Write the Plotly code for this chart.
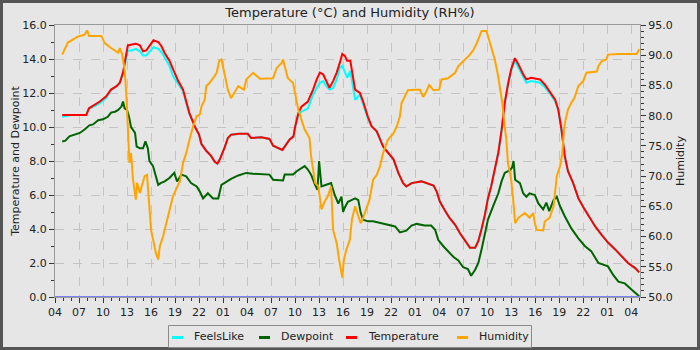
import datetime as dt
import plotly.graph_objects as go

START = dt.datetime(2024, 3, 1, 4, 0)
END_HOURS = 73.1

# ---- data (hours after 04:00 on day 1, values) ----
temp_hours = [0.9, 2.0, 3.9, 4.25, 5.0, 5.6, 6.4, 7.0, 7.7, 8.1, 8.5, 8.8, 9.1, 9.6, 10.1, 10.6, 11.0, 11.4,
              11.8, 12.3, 12.9, 13.3, 13.7, 14.3, 14.75, 15.4, 16.0, 16.4, 16.8, 17.5, 18.0, 18.3, 18.9,
              19.5, 19.96, 20.3, 20.6, 21.2, 21.6, 22.0, 23.0, 24.1, 24.5, 25.8, 26.8, 27.25, 27.9, 28.4,
              28.7, 29.3, 29.8, 30.0, 30.4, 30.8, 31.6, 32.25, 32.7, 33.1, 33.5, 33.9, 34.3, 34.75, 35.2,
              35.6, 35.9, 36.2, 36.5, 36.9, 37.2, 37.5, 38.1, 38.5, 39.1, 39.55, 40.2, 40.6, 41.0, 41.6,
              42.3, 42.9, 43.5, 43.9, 44.55, 45.8, 46.4, 47.3, 47.7, 48.1, 48.7, 49.3, 50.0, 50.6, 51.2,
              51.85, 52.5, 52.9, 53.3, 53.7, 54.1, 54.5, 54.95, 55.4, 55.8, 56.2, 56.6, 57.0, 57.46, 57.9,
              58.5, 58.9, 59.5, 60.6, 61.2, 61.8, 62.5, 62.9, 63.3, 63.7, 64.1, 64.75, 65.4, 66.0, 66.6,
              67.5, 68.3, 69.1, 70.0, 70.8, 71.6, 72.5, 73.0]
temperature = [10.7, 10.7, 10.7, 11.1, 11.3, 11.5, 11.8, 12.2, 12.4, 12.6, 13.2, 14.0, 14.8, 14.85, 14.9,
               14.8, 14.45, 14.5, 14.8, 15.1, 15.0, 14.75, 14.35, 13.9, 13.4, 12.7, 12.2, 11.5, 10.8, 10.0,
               9.55, 9.0, 8.6, 8.3, 7.95, 7.85, 8.1, 8.8, 9.35, 9.55, 9.6, 9.6, 9.35, 9.4, 9.3, 8.9, 8.75,
               8.65, 8.85, 9.25, 9.45, 10.0, 10.8, 11.2, 11.5, 12.2, 12.8, 13.2, 13.1, 12.7, 12.3, 12.7,
               13.2, 13.8, 14.3, 14.2, 13.9, 13.9, 13.1, 12.2, 12.0, 11.5, 10.6, 10.05, 9.75, 9.35, 8.85,
               8.5, 8.1, 7.3, 6.7, 6.5, 6.7, 6.8, 6.7, 6.55, 6.2, 5.6, 5.1, 4.65, 4.25, 3.75, 3.35, 2.9,
               2.9, 3.3, 4.0, 4.8, 5.8, 6.5, 7.5, 8.5, 9.8, 11.4, 12.5, 13.4, 14.05, 13.7, 13.1, 12.8,
               12.9, 12.8, 12.5, 12.1, 11.6, 11.0, 9.8, 8.3, 7.4, 6.7, 5.8, 5.3, 4.85, 4.15, 3.65, 3.2,
               2.8, 2.4, 2.0, 1.7, 1.45]
feels_like = [10.6, 10.7, 10.7, 11.1, 11.25, 11.4, 11.7, 12.2, 12.4, 12.6, 13.2, 13.9, 14.5, 14.5, 14.6,
              14.45, 14.2, 14.2, 14.4, 14.7, 14.6, 14.4, 14.1, 13.6, 13.0, 12.5, 12.1, 11.4, 10.8, 10.0,
              9.55, 9.0, 8.6, 8.3, 7.95, 7.85, 8.1, 8.8, 9.35, 9.55, 9.6, 9.6, 9.35, 9.4, 9.3, 8.9, 8.75,
              8.65, 8.85, 9.25, 9.45, 10.0, 10.7, 10.9, 11.1, 11.9, 12.3, 12.6, 12.7, 12.4, 12.2, 12.3,
              12.8, 13.5, 13.6, 13.3, 12.9, 13.3, 12.4, 11.6, 11.9, 11.3, 10.5, 10.05, 9.75, 9.35, 8.85,
              8.5, 8.1, 7.3, 6.7, 6.5, 6.7, 6.8, 6.7, 6.55, 6.2, 5.6, 5.1, 4.65, 4.25, 3.75, 3.35, 2.9,
              2.9, 3.3, 4.0, 4.8, 5.8, 6.5, 7.5, 8.5, 9.8, 11.4, 12.5, 13.3, 13.9, 13.5, 12.9, 12.6,
              12.7, 12.6, 12.35, 12.0, 11.5, 11.0, 9.8, 8.3, 7.4, 6.7, 5.8, 5.3, 4.85, 4.15, 3.65, 3.2,
              2.8, 2.4, 2.0, 1.7, 1.45]

dew_hours = [0.9, 1.3, 1.8, 2.5, 3.1, 3.7, 4.3, 4.75, 5.4, 6.0, 6.6, 7.0, 7.5, 7.9, 8.3, 8.5, 8.7, 9.0,
             9.25, 9.5, 10.0, 10.2, 10.6, 11.0, 11.3, 11.6, 11.8, 12.25, 12.6, 12.9, 13.2, 13.7, 14.3,
             14.9, 15.25, 15.8, 16.4, 17.0, 17.7, 18.1, 18.5, 19.1, 19.75, 20.4, 20.8, 21.4, 22.0, 22.9,
             23.9, 24.75, 26.8, 27.25, 28.5, 28.7, 29.75, 30.2, 30.8, 31.2, 31.6, 32.0, 32.5, 32.8, 33.0,
             33.3, 33.9, 34.5, 34.95, 35.4, 35.8, 36.0, 36.2, 36.6, 37.05, 37.5, 37.9, 38.2, 38.5, 39.1,
             39.75, 40.6, 41.4, 42.5, 43.1, 43.9, 44.55, 45.2, 46.2, 47.0, 47.5, 47.9, 48.5, 49.1, 49.8,
             50.4, 51.0, 51.6, 52.0, 52.5, 52.9, 53.3, 53.7, 54.1, 54.75, 55.4, 55.8, 56.2, 56.8, 57.1,
             57.3, 57.5, 58.1, 58.5, 58.9, 59.3, 59.96, 60.4, 61.0, 61.4, 61.75, 62.3, 62.7, 63.1, 63.7,
             64.5, 65.4, 66.2, 67.0, 67.9, 69.1, 69.75, 70.4, 71.2, 72.0, 72.7, 73.0]
dewpoint = [9.15, 9.2, 9.45, 9.55, 9.65, 9.85, 10.1, 10.15, 10.4, 10.45, 10.6, 10.85, 10.9, 11.0, 11.2,
            11.5, 11.1, 11.0, 10.6, 10.0, 9.65, 8.85, 8.75, 8.75, 9.15, 8.75, 8.0, 7.7, 7.1, 6.6, 6.7,
            6.8, 7.0, 7.3, 6.8, 7.2, 7.1, 6.7, 6.5, 6.2, 5.8, 6.1, 5.8, 5.8, 6.6, 6.8, 6.95, 7.15, 7.3,
            7.25, 7.2, 6.9, 6.85, 7.2, 7.2, 7.4, 7.6, 7.7, 7.5, 7.2, 6.6, 6.3, 8.0, 6.5, 6.6, 6.7, 6.0,
            5.5, 5.9, 5.0, 5.25, 5.6, 5.7, 5.8, 5.7, 4.95, 4.55, 4.45, 4.45, 4.35, 4.25, 4.15, 3.8, 3.9,
            4.2, 4.3, 4.2, 4.2, 3.95, 3.35, 3.0, 2.7, 2.35, 2.15, 1.75, 1.65, 1.25, 1.6, 2.0, 2.8, 3.7,
            4.55, 5.35, 6.1, 6.8, 7.3, 7.45, 7.6, 8.0, 6.9, 6.7, 6.1, 5.9, 6.1, 6.0, 5.5, 5.15, 5.55,
            5.05, 5.7, 5.9, 5.35, 4.75, 4.05, 3.45, 3.0, 2.7, 2.0, 1.8, 1.3, 0.9, 0.8, 0.45, 0.15, 0.05]

hum_hours = [0.9, 1.2, 1.6, 2.9, 3.7, 4.0, 4.25, 5.8, 6.2, 7.0, 7.9, 8.1, 8.4, 8.7, 8.9, 9.1, 9.3, 9.5,
             9.75, 10.1, 10.25, 10.6, 11.2, 11.5, 11.75, 12.0, 12.3, 12.6, 12.9, 13.1, 13.5, 13.9, 14.3,
             14.75, 15.2, 15.6, 16.0, 16.4, 16.8, 17.25, 17.7, 18.1, 18.3, 18.7, 18.9, 19.3, 19.75, 20.2,
             20.5, 20.8, 21.2, 21.6, 22.0, 22.45, 22.9, 23.6, 23.9, 24.75, 25.6, 27.25, 27.7, 28.3, 28.5,
             28.7, 29.1, 29.75, 30.2, 30.4, 30.8, 31.2, 31.8, 32.0, 32.5, 32.9, 33.3, 33.7, 34.1, 34.5,
             34.75, 35.2, 35.5, 35.9, 36.1, 36.4, 36.85, 37.1, 37.5, 37.9, 38.2, 38.5, 38.9, 39.3, 39.75,
             40.2, 40.6, 41.0, 41.6, 42.3, 42.7, 43.1, 43.3, 43.7, 44.1, 45.0, 45.6, 46.0, 46.4, 46.75,
             47.3, 48.0, 48.3, 49.1, 50.0, 50.4, 51.2, 51.85, 52.3, 52.7, 53.3, 53.9, 54.3, 54.75, 54.95,
             55.3, 55.6, 55.9, 56.1, 56.4, 56.6, 57.0, 57.25, 57.5, 57.9, 58.7, 59.3, 59.75, 59.96, 60.2,
             61.0, 61.2, 61.8, 62.3, 62.7, 63.1, 63.4, 63.6, 63.8, 64.1, 64.5, 64.9, 65.4, 66.0, 66.4,
             67.7, 67.9, 68.3, 68.9, 69.1, 70.4, 72.7, 73.0]
humidity = [90.1, 90.9, 92.1, 93.1, 93.4, 94.1, 93.2, 93.2, 92.0, 91.2, 90.4, 91.2, 90.1, 87.6, 83.8,
            78.2, 72.2, 73.8, 69.4, 66.1, 68.9, 67.2, 70.0, 70.2, 65.0, 61.1, 59.2, 57.3, 56.2, 58.4,
            60.0, 62.2, 63.9, 66.7, 68.0, 69.1, 72.2, 73.8, 76.0, 78.2, 79.9, 80.2, 81.5, 82.6, 84.9,
            85.4, 86.2, 87.1, 89.0, 89.3, 86.8, 84.3, 82.9, 84.0, 84.9, 84.3, 86.0, 87.1, 86.1, 86.2,
            87.9, 88.7, 89.3, 88.2, 86.2, 85.4, 82.6, 81.0, 79.3, 77.7, 76.3, 73.3, 68.9, 68.3, 64.5,
            65.8, 66.7, 68.3, 61.1, 58.9, 56.2, 53.2, 56.2, 57.8, 59.5, 62.8, 65.0, 63.6, 62.2, 63.1,
            64.5, 66.1, 69.4, 70.2, 71.6, 73.8, 76.0, 77.1, 78.2, 79.9, 82.1, 83.2, 84.2, 84.3, 84.3,
            83.1, 84.0, 85.1, 84.2, 84.3, 86.0, 86.2, 87.1, 88.2, 89.3, 90.1, 90.9, 92.0, 94.0, 94.0,
            92.3, 90.4, 89.3, 87.1, 84.9, 82.1, 79.3, 76.0, 72.2, 69.4, 66.1, 62.2, 63.1, 63.9, 63.1,
            63.9, 62.2, 61.1, 61.0, 62.5, 63.1, 65.0, 70.0, 71.6, 73.8, 77.7, 79.3, 81.0, 82.1, 82.9,
            84.9, 85.7, 87.1, 87.3, 88.2, 89.0, 89.3, 90.1, 90.2, 90.2, 91.0]

series_names = ["FeelsLike", "Dewpoint", "Temperature", "Humidity"]
series_colors = ["#00ffff", "#006400", "#ff0000", "#ffa500"]


def to_time(hours):
    return [START + dt.timedelta(hours=h) for h in hours]


FONT = "DejaVu Sans"
fig = go.Figure()
series = [(temp_hours, feels_like, "y"), (dew_hours, dewpoint, "y"),
          (temp_hours, temperature, "y"), (hum_hours, humidity, "y2")]
for (hrs, vals, ax), name, color in zip(series, series_names, series_colors):
    fig.add_trace(go.Scatter(x=to_time(hrs), y=vals, name=name, mode="lines", yaxis=ax,
                             line=dict(color=color, width=2), showlegend=False))

W, H = 700, 350
L, R, T, B = 55, 60, 25, 53
pw, ph = W - L - R, H - T - B


def px(x):
    return (x - L) / pw


def py(y):
    return (H - B - y) / ph


fig.update_layout(
    width=W, height=H,
    margin=dict(l=L, r=R, t=T, b=B, pad=0, autoexpand=False),
    paper_bgcolor="#e6e6e6", plot_bgcolor="#e6e6e6",
    font=dict(family=FONT, size=11, color="#222222"),
    title=dict(text="Temperature (°C) and Humidity (RH%)", x=0.5, xanchor="center",
               y=1 - 12.5 / H, yanchor="middle", font=dict(size=13, color="#222222")),
    showlegend=False,
    xaxis=dict(type="date", range=[START, START + dt.timedelta(hours=END_HOURS)],
               tick0=START, dtick=3 * 3600 * 1000, tickformat="%H", automargin=False,
               ticks="outside", ticklen=5, tickcolor="#333333",
               showline=True, linecolor="#999999", mirror=True,
               showgrid=True, gridcolor="#c4c4c4", griddash="dash", gridwidth=1,
               minor=dict(dtick=3600 * 1000, ticks="outside", ticklen=3, tickcolor="#333333", showgrid=False),
               zeroline=False),
    yaxis=dict(range=[0, 16], dtick=2, tickformat=".1f", ticks="outside", ticklen=5, tickcolor="#333333",
               showline=True, linecolor="#999999", mirror=True, automargin=False,
               showgrid=True, gridcolor="#c4c4c4", griddash="dash", gridwidth=1,
               minor=dict(dtick=1, ticks="outside", ticklen=3, tickcolor="#333333", showgrid=False),
               zeroline=False,
               title=dict(text="Temperature and Dewpoint", font=dict(size=11), standoff=0)),
    yaxis2=dict(range=[50, 95], dtick=5, tickformat=".1f", overlaying="y", side="right",
                ticks="outside", ticklen=5, tickcolor="#333333", showgrid=False, zeroline=False,
                automargin=False,
                minor=dict(dtick=1, ticks="outside", ticklen=3, tickcolor="#333333"),
                title=dict(text="Humidity", font=dict(size=11), standoff=4)),
)

# baseline (zero series) along the bottom
fig.add_shape(type="line", xref="paper", yref="y", x0=0, x1=1, y0=0, y1=0,
              line=dict(color="#7f7fff", width=2), layer="above")
# outer frame of the image
fig.add_shape(type="rect", xref="paper", yref="paper",
              x0=px(1.5), x1=px(W - 1.5), y0=py(H - 1.5), y1=py(1.5),
              line=dict(color="#555555", width=3), fillcolor="rgba(0,0,0,0)", layer="above")

# legend box drawn by hand (short line samples like the reference)
LEG_X0, LEG_X1, LEG_Y0, LEG_Y1 = 168.5, 531.5, 325.5, 347.5
fig.add_shape(type="rect", xref="paper", yref="paper",
              x0=px(LEG_X0), x1=px(LEG_X1), y0=py(LEG_Y1), y1=py(LEG_Y0),
              line=dict(color="#8a8a8a", width=1), fillcolor="#e6e6e6", layer="above")
item_starts = [172, 259, 346, 457]
ymid = (LEG_Y0 + LEG_Y1) / 2
for name, color, x0 in zip(series_names, series_colors, item_starts):
    fig.add_shape(type="line", xref="paper", yref="paper",
                  x0=px(x0), x1=px(x0 + 11), y0=py(ymid + 1), y1=py(ymid + 1),
                  line=dict(color=color, width=3), layer="above")
    fig.add_annotation(xref="paper", yref="paper", x=px(x0 + 20), y=py(ymid), text=name,
                       showarrow=False, xanchor="left", yanchor="middle",
                       font=dict(family=FONT, size=11, color="#222222"))

fig.write_html("out.html")
